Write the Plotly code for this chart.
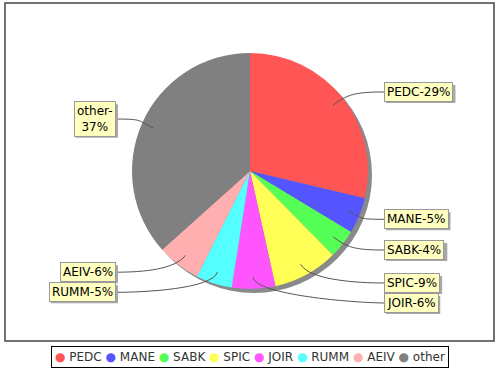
import math
import plotly.graph_objects as go

# ---- data ----
categories = ["PEDC", "MANE", "SABK", "SPIC", "JOIR", "RUMM", "AEIV", "other"]
values = [29, 5, 4, 9, 6, 5, 6, 37]
colors = ["#FF5555", "#5555FF", "#55FF55", "#FFFF55", "#FF55FF", "#55FFFF", "#FFAFAF", "#808080"]
wrap_labels = ["other"]

W, H = 500, 370
CX, CY, R = 250, 171, 118
SHADOW = 4
FONT = "DejaVu Sans"
FS = 12

# approximate DejaVu Sans advance widths (em units / 2048)
ADV = {"P": 1235, "E": 1294, "D": 1577, "C": 1430, "-": 739, "%": 1946, "M": 1767,
       "A": 1401, "N": 1532, "S": 1300, "B": 1405, "K": 1343, "I": 604, "J": 604,
       "O": 1612, "R": 1423, "U": 1499, "V": 1401, "o": 1253, "t": 803, "h": 1298,
       "e": 1260, "r": 842}


def text_w(s):
    return sum((1303 if ch.isdigit() else ADV.get(ch, 1280)) for ch in s) / 2048 * FS


def px(x):
    return x / W


def py(y):
    return 1 - y / H


fig = go.Figure()

# pie shadow
fig.add_trace(go.Pie(
    values=[1], labels=["shadow"], sort=False,
    marker=dict(colors=["#8a8a8a"], line=dict(width=0)),
    domain=dict(x=[px(CX - R + SHADOW), px(CX + R + SHADOW)],
                y=[py(CY + R + SHADOW), py(CY - R + SHADOW)]),
    textinfo="none", hoverinfo="skip", showlegend=False,
))

fig.add_trace(go.Pie(
    values=values, labels=categories, sort=False, direction="clockwise", rotation=0,
    marker=dict(colors=colors, line=dict(width=0)),
    domain=dict(x=[px(CX - R), px(CX + R)], y=[py(CY + R), py(CY - R)]),
    textinfo="none", hoverinfo="label+value", showlegend=False,
))

total = sum(values)
cum = 0
labels_info = []
for cat, v in zip(categories, values):
    a0 = cum / total * 2 * math.pi
    cum += v
    a1 = cum / total * 2 * math.pi
    mid = (a0 + a1) / 2
    s, c = math.sin(mid), -math.cos(mid)
    anchor = (CX + 0.9 * R * s, CY + 0.9 * R * c)
    ctrl = (CX + 1.05 * R * s, CY + 1.05 * R * c)
    ly = CY + 1.08 * R * c
    side = 1 if s > 0 else -1
    labels_info.append(dict(cat=cat, v=v, anchor=anchor, ctrl=ctrl, ly=ly, side=side))

# resolve overlaps per side
for side in (1, -1):
    items = sorted([l for l in labels_info if l["side"] == side], key=lambda l: l["ly"])
    for i in range(1, len(items)):
        h_prev = 36 if items[i - 1]["cat"] in wrap_labels else 20
        if items[i]["ly"] - items[i - 1]["ly"] < h_prev:
            items[i]["ly"] = items[i - 1]["ly"] + h_prev

shapes = []
annotations = []
for l in labels_info:
    bx = CX + R + 16 if l["side"] > 0 else CX - R - 16
    lines = [f"{l['cat']}-{l['v']}%"]
    if l["cat"] in wrap_labels:
        lines = [f"{l['cat']}-", f"{l['v']}%"]
    txt = "<br>".join(lines)
    ax_, ay_ = l["anchor"]
    cx_, cy_ = l["ctrl"]
    path = (f"M {px(bx)},{py(l['ly'])} "
            f"C {px(bx - 28 * l['side'])},{py(l['ly'])} {px(cx_)},{py(cy_)} {px(ax_)},{py(ay_)}")
    shapes.append(dict(type="path", path=path, xref="paper", yref="paper",
                       line=dict(color="#555555", width=1)))
    # label shadow box
    bw = max(text_w(t) for t in lines) + 6
    bh = 18 + 15.6 * (len(lines) - 1)
    x0 = bx + 2 if l["side"] > 0 else bx + 2 - bw
    shapes.append(dict(type="rect", xref="paper", yref="paper",
                       x0=px(x0), x1=px(x0 + bw),
                       y0=py(l["ly"] + 2 + bh / 2), y1=py(l["ly"] + 2 - bh / 2),
                       line=dict(width=0), fillcolor="#a8a8a8"))
    xa = "left" if l["side"] > 0 else "right"
    annotations.append(dict(
        x=px(bx), y=py(l["ly"]), xref="paper", yref="paper",
        xanchor=xa, yanchor="middle", text=txt, showarrow=False,
        font=dict(family=FONT, size=FS, color="#000000"),
        bgcolor="#FFFFC0", bordercolor="#999999", borderwidth=1, borderpad=2, align="center",
    ))

# legend as a single bordered annotation
legend_txt = " ".join(
    f"<span style='color:{col}'>●</span> {cat}" for cat, col in zip(categories, colors)
)
annotations.append(dict(
    x=0.5, y=py(357), xref="paper", yref="paper", xanchor="center", yanchor="middle",
    text=legend_txt, showarrow=False,
    font=dict(family=FONT, size=FS, color="#333333"),
    bgcolor="#FFFFFF", bordercolor="#000000", borderwidth=1, borderpad=3,
))

# outer plot border
shapes.append(dict(type="rect", xref="paper", yref="paper",
                   x0=px(5), x1=px(494), y0=py(341), y1=py(3),
                   line=dict(color="#444444", width=1.5), fillcolor="rgba(0,0,0,0)", layer="below"))

fig.update_layout(
    width=W, height=H, margin=dict(l=0, r=0, t=0, b=0),
    paper_bgcolor="#FFFFFF", plot_bgcolor="#FFFFFF",
    shapes=shapes, annotations=annotations, showlegend=False,
    font=dict(family=FONT),
)

fig.write_html("out.html", config={"displayModeBar": False},
               post_script="document.body.style.margin='0';")
